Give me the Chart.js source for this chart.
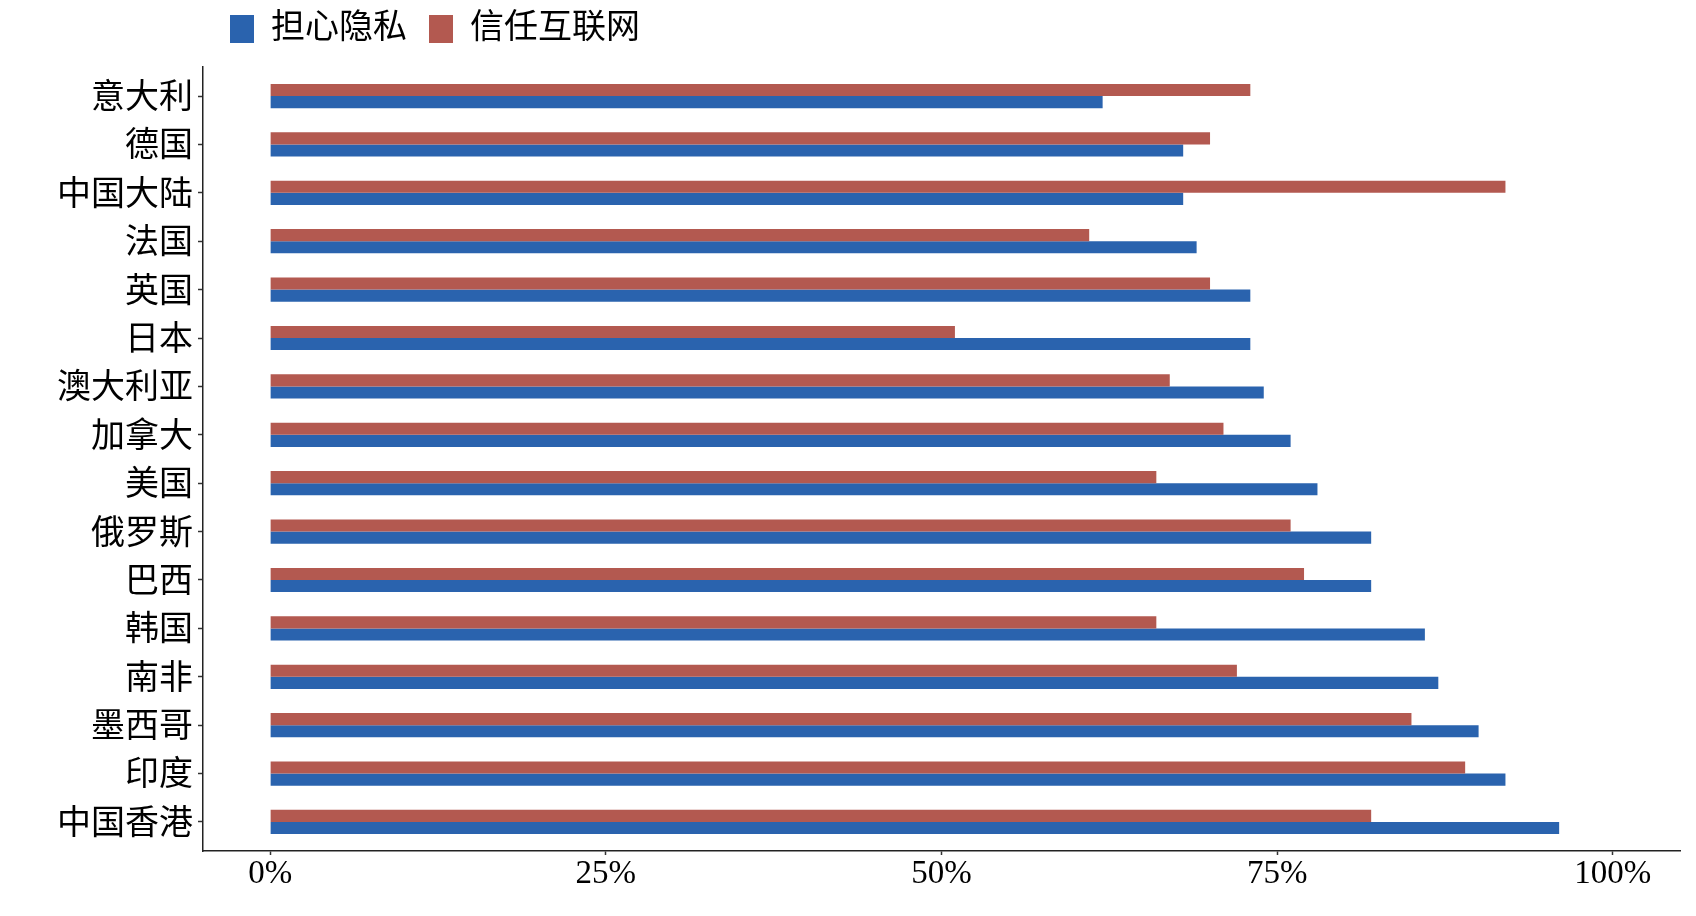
<!DOCTYPE html>
<html>
<head>
<meta charset="utf-8">
<script src="https://cdn.jsdelivr.net/npm/chart.js@4"></script>
<style>
  html, body { margin: 0; padding: 0; background: #fff; }
</style>
</head>
<body>
<canvas id="privacyChart" width="1696" height="916"></canvas>
<script>
// data (percent)
const countries = ['意大利', '德国', '中国大陆', '法国', '英国', '日本', '澳大利亚', '加拿大',
                   '美国', '俄罗斯', '巴西', '韩国', '南非', '墨西哥', '印度', '中国香港'];
const worryPrivacy  = [62, 68, 68, 69, 73, 73, 74, 76, 78, 82, 82, 86, 87, 90, 92, 96];
const trustInternet = [73, 70, 92, 61, 70, 51, 67, 71, 66, 76, 77, 66, 72, 85, 89, 82];
const xTicks = [0, 25, 50, 75, 100];

const blue = '#2A63AE';
const red = '#B35950';
const fontFamily = "'Liberation Serif', 'Noto Sans CJK SC', serif";

// put the legend where the reference has it
const legendShift = {
    id: 'legendShift',
    afterLayout(chart) {
        const lg = chart.legend;
        const w = lg.width, h = lg.height;
        lg.left = 208;
        lg.right = 208 + w;
        lg.top = -10;
        lg.bottom = h - 10;
    }
};

const ctx = document.getElementById('privacyChart').getContext('2d');
new Chart(ctx, {
    type: 'bar',
    data: {
        datasets: [
            {
                label: '信任互联网',
                data: trustInternet.map((v, i) => ({ x: v, y: i })),
                backgroundColor: red,
                borderWidth: 0
            },
            {
                label: '担心隐私',
                data: worryPrivacy.map((v, i) => ({ x: v, y: i })),
                backgroundColor: blue,
                borderWidth: 0
            }
        ]
    },
    options: {
        indexAxis: 'y',
        responsive: false,
        animation: false,
        devicePixelRatio: 1,
        categoryPercentage: 0.5,
        barPercentage: 1.0,
        layout: { padding: { left: 0, right: 16, top: 1, bottom: 0 } },
        scales: {
            x: {
                type: 'linear',
                min: -5,
                max: 105,
                afterBuildTicks: s => { s.ticks = xTicks.map(v => ({ value: v })); },
                afterFit: s => { s.height = 65; },
                grid: { drawOnChartArea: false, drawTicks: true, tickLength: 4, tickColor: '#333', tickWidth: 1.5 },
                border: { display: true, color: '#222', width: 1.5 },
                ticks: {
                    padding: 0,
                    color: '#000',
                    font: { family: fontFamily, size: 33 },
                    callback: v => v + '%'
                }
            },
            y: {
                type: 'linear',
                reverse: true,
                offset: false,
                min: -0.6,
                max: 15.6,
                afterBuildTicks: s => { s.ticks = countries.map((c, i) => ({ value: i })); },
                afterFit: s => { s.width = 203; },
                grid: { offset: false, drawOnChartArea: false, drawTicks: true, tickLength: 5, tickColor: '#333', tickWidth: 1.5 },
                border: { display: true, color: '#222', width: 1.5 },
                ticks: {
                    padding: 5,
                    labelOffset: 3,
                    color: '#000',
                    font: { family: fontFamily, size: 34 },
                    callback: v => countries[v]
                }
            }
        },
        plugins: {
            legend: {
                position: 'top',
                align: 'start',
                reverse: true,
                labels: {
                    boxWidth: 24,
                    boxHeight: 28,
                    padding: 22,
                    color: '#000',
                    font: { family: fontFamily, size: 34 }
                }
            },
            tooltip: { enabled: false }
        }
    },
    plugins: [legendShift]
});
</script>
</body>
</html>
